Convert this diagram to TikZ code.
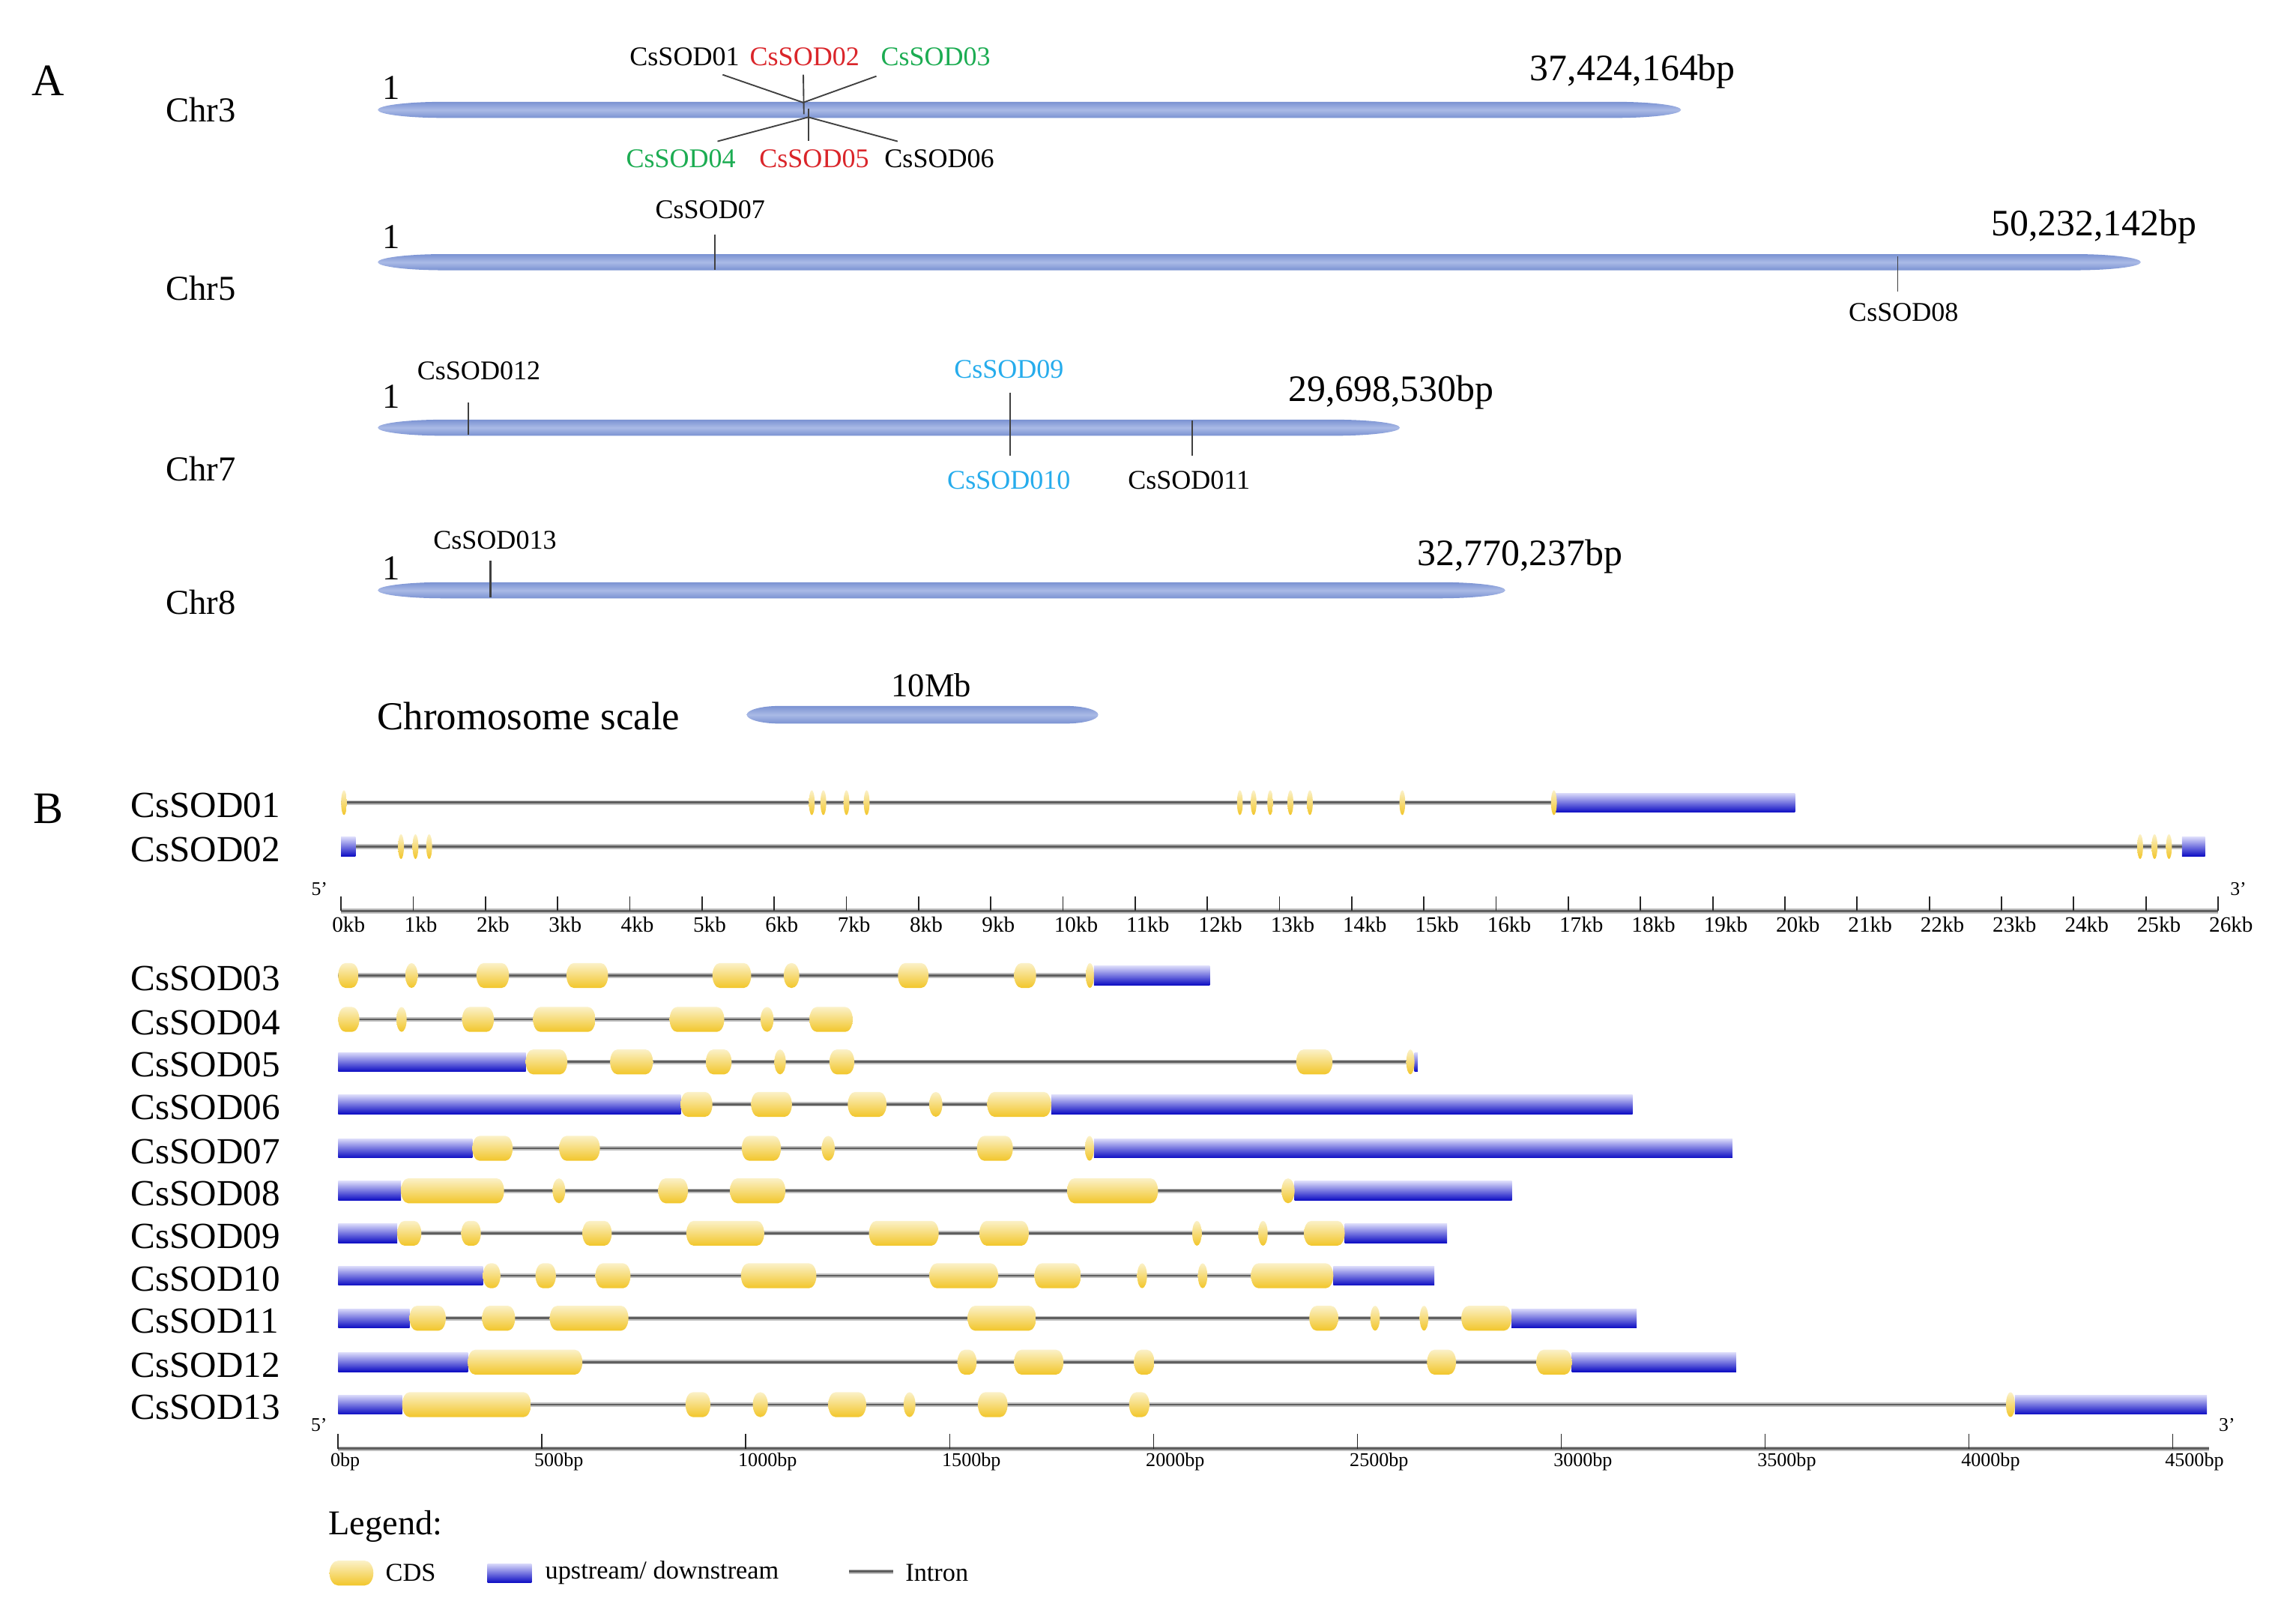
\documentclass[tikz,border=0pt]{standalone}
\usepackage{fontspec}
\setmainfont{Liberation Serif}

\definecolor{sodred}{RGB}{218,37,42}
\definecolor{sodgreen}{RGB}{28,172,82}
\definecolor{sodcyan}{RGB}{38,172,236}
\definecolor{chrmid}{RGB}{170,186,230}
\definecolor{chredge}{RGB}{122,146,210}
\definecolor{cdstop}{RGB}{251,241,200}
\definecolor{cdsbot}{RGB}{242,198,42}
\definecolor{utrtop}{RGB}{218,218,250}
\definecolor{utrbot}{RGB}{14,14,196}
\definecolor{introngray}{RGB}{95,95,95}

\tikzset{
  chrshade/.style={top color=chredge, bottom color=chredge, middle color=chrmid},
  cdsshade/.style={top color=cdstop, bottom color=cdsbot},
  utrshade/.style={top color=utrtop, bottom color=utrbot},
  intron/.style={draw=introngray!40, double=introngray, double distance=0.8pt, line width=0.5pt},
  geneline/.style={draw=black!75, line width=0.55pt},
  axtick/.style={draw=black!85, line width=0.5pt},
  panel/.style={font=\fontsize{17.5}{20}\selectfont},
  chrname/.style={font=\fontsize{13.6}{16}\selectfont},
  genelbl/.style={font=\fontsize{10.5}{12}\selectfont, inner sep=0pt},
  lenlbl/.style={font=\fontsize{14.5}{17}\selectfont, inner sep=0pt},
  rowlbl/.style={font=\fontsize{14.3}{17}\selectfont, inner sep=0pt, anchor=west},
  kblbl/.style={font=\fontsize{8.5}{10}\selectfont, inner sep=0pt, anchor=west},
  bplbl/.style={font=\fontsize{7.6}{9}\selectfont, inner sep=0pt, anchor=west},
  primelbl/.style={font=\fontsize{7.5}{9}\selectfont, inner sep=0pt},
  legendlbl/.style={font=\fontsize{10}{12}\selectfont, inner sep=0pt, anchor=west}
}

% shape with elliptic ends: style, x0, x1, y, half height, end length
\newcommand{\barrel}[6]{%
  \pgfmathsetmacro\bxa{#2}\pgfmathsetmacro\bxb{#3}\pgfmathsetmacro\bd{#6}%
  \pgfmathsetmacro\byt{#4-#5}\pgfmathsetmacro\byb{#4+#5}%
  \pgfmathsetmacro\byu{#4-0.55*#5}\pgfmathsetmacro\byl{#4+0.55*#5}%
  \shade[#1] (\bxa+\bd,\byt) -- (\bxb-\bd,\byt)
    .. controls (\bxb-0.45*\bd,\byt) and (\bxb,\byu) .. (\bxb,#4)
    .. controls (\bxb,\byl) and (\bxb-0.45*\bd,\byb) .. (\bxb-\bd,\byb)
    -- (\bxa+\bd,\byb)
    .. controls (\bxa+0.45*\bd,\byb) and (\bxa,\byl) .. (\bxa,#4)
    .. controls (\bxa,\byu) and (\bxa+0.45*\bd,\byt) .. cycle;}
\newcommand{\cds}[3]{%
  \pgfmathsetmacro\cdsd{min(0.5*((#2)-(#1)),\cdsr)}%
  \barrel{cdsshade}{#1}{#2}{#3}{8.5}{\cdsd}}
\newcommand{\utr}[3]{\shade[utrshade] (#1,#3-6.5) rectangle (#2,#3+6.5);}
\newcommand{\chrom}[3]{\barrel{chrshade}{#1}{#2}{#3}{5.5}{45}}
\def\cdsr{18}

\begin{document}
\begin{tikzpicture}[x=0.02cm, y=-0.02cm]
  \useasboundingbox (0,0) rectangle (1568,1103);

  % ---------- A ----------
  \node[panel] (pa) at (33,55) {A};

  \chrom{258}{1148}{75}
  \chrom{258}{1462}{179}
  \chrom{258}{956}{292}
  \chrom{258}{1028}{403}

  \node[chrname] (chr3) at (137,75) {Chr3};
  \node[chrname] (chr5) at (137,197) {Chr5};
  \node[chrname] (chr7) at (137,320) {Chr7};
  \node[chrname] (chr8) at (137,411) {Chr8};

  \foreach \y [count=\i] in {60,162,271,388}
    \node[chrname] (one\i) at (267,\y) {1};

  \node[lenlbl] (len3) at (1115,49) {37,424,164bp};
  \node[lenlbl] (len5) at (1430,155) {50,232,142bp};
  \node[lenlbl] (len7) at (950,268) {29,698,530bp};
  \node[lenlbl] (len8) at (1038,380) {32,770,237bp};

  % Chr3 cluster
  \node[genelbl] (g01) at (467.5,38.5) {CsSOD01};
  \node[genelbl, text=sodred] (g02) at (549.5,38.5) {CsSOD02};
  \node[genelbl, text=sodgreen] (g03) at (639,38.5) {CsSOD03};
  \node[genelbl, text=sodgreen] (g04) at (465,108.5) {CsSOD04};
  \node[genelbl, text=sodred] (g05) at (556,108.5) {CsSOD05};
  \node[genelbl] (g06) at (641.5,108.5) {CsSOD06};

  \coordinate (hubU) at (548.5,70);
  \coordinate (hubD) at (552,80);
  \coordinate (e01) at (493.5,51);
  \coordinate (e02) at (548.6,51);
  \coordinate (e03) at (598.5,52);
  \coordinate (e04) at (490,96.5);
  \coordinate (e05) at (552,96);
  \coordinate (e06) at (613,96.5);

  \draw[geneline] (e01) -- (hubU) -- (e03);
  \draw[geneline] (e02) -- (549,78);
  \draw[geneline] (e04) -- (hubD) -- (e06);
  \draw[geneline] (552,74) -- (e05);

  % Chr5, Chr7, Chr8
  \node[genelbl] (g07) at (485,143) {CsSOD07};
  \node[genelbl] (g08) at (1300,213) {CsSOD08};
  \node[genelbl] (g12) at (327,253) {CsSOD012};
  \node[genelbl, text=sodcyan] (g09) at (689,252) {CsSOD09};
  \node[genelbl, text=sodcyan] (g10) at (689,328) {CsSOD010};
  \node[genelbl] (g11) at (812,328) {CsSOD011};
  \node[genelbl] (g13) at (338,369) {CsSOD013};

  \draw[geneline] (488,160) -- (488,184);
  \draw[geneline] (1296,175) -- (1296,199);
  \draw[geneline] (320,275) -- (320,297);
  \draw[geneline] (690,268) -- (690,311);
  \draw[geneline] (814,287) -- (814,311);
  \draw[geneline, line width=1pt] (335,383) -- (335,408);

  % scale
  \node[font=\fontsize{15.4}{18}\selectfont] (scl) at (361,489) {Chromosome scale};
  \barrel{chrshade}{510}{750}{488}{6}{22}
  \node[font=\fontsize{13}{15}\selectfont] (mb) at (636,468) {10Mb};

  % ---------- B ----------
  \node[panel] (pb) at (33,552) {B};

  \foreach \g/\y in {01/550,02/580,03/668,04/698,05/727,06/756,07/786,
                     08/815,09/844,10/873,11/902,12/932,13/961}
    \node[rowlbl] (row\g) at (89,\y) {CsSOD\g};

  % kb rows
  \begin{scope}[xshift=4.66cm, x=0.9862cm]
    \draw[intron] (0,548) -- (16.82,548);
    \utr{16.82}{20.14}{548}
    \foreach \m in {0.04,6.52,6.68,7.0,7.28,12.45,12.64,12.87,13.15,13.42,14.70,16.80}
      {\cds{\m-0.04}{\m+0.04}{548}}

    \draw[intron] (0.2,578) -- (25.5,578);
    \utr{0}{0.2}{578}
    \utr{25.5}{25.82}{578}
    \foreach \m in {0.83,1.03,1.22,24.92,25.12,25.32}
      {\cds{\m-0.04}{\m+0.04}{578}}

    \draw[intron] (0,622) -- (26,622);
    \foreach \k in {0,...,26}{
      \draw[axtick] (\k,612) -- (\k,622);
      \node[kblbl] (kb\k) at (\k-0.13,631) {\k kb};
    }
    \node[primelbl] (kb5) at (-0.3,607) {5'};
    \node[primelbl] (kb3) at (26.28,607) {3'};
  \end{scope}

  % bp rows
  \begin{scope}[xshift=4.62cm, x=0.005564cm]
    % CsSOD03
    \draw[intron] (0,666) -- (1854,666);
    \foreach \a/\b in {0/50,165/195,339/419,560/662,918/1013,1093/1131,1373/1448,1658/1712,1834/1854}
      {\cds{\a}{\b}{666}}
    \utr{1854}{2138}{666}
    % CsSOD04
    \draw[intron] (0,696) -- (1262,696);
    \foreach \a/\b in {0/52,143/168,304/382,478/631,813/947,1036/1068,1156/1262}
      {\cds{\a}{\b}{696}}
    % CsSOD05
    \draw[intron] (460,725) -- (2640,725);
    \utr{0}{460}{725}
    \utr{2640}{2648}{725}
    \foreach \a/\b in {460/562,667/772,902/965,1070/1098,1205/1266,2350/2439,2620/2640}
      {\cds{\a}{\b}{725}}
    % CsSOD06
    \draw[intron] (840,754) -- (1749,754);
    \utr{0}{840}{754}
    \utr{1749}{3175}{754}
    \foreach \a/\b in {840/918,1013/1113,1250/1345,1450/1482,1592/1749}
      {\cds{\a}{\b}{754}}
    % CsSOD07
    \draw[intron] (329,784) -- (1854,784);
    \utr{0}{329}{784}
    \utr{1854}{3420}{784}
    \foreach \a/\b in {329/428,542/642,990/1086,1186/1218,1567/1655,1832/1854}
      {\cds{\a}{\b}{784}}
    % CsSOD08
    \draw[intron] (154,813) -- (2346,813);
    \utr{0}{154}{813}
    \utr{2346}{2879}{813}
    \foreach \a/\b in {154/407,526/557,785/858,961/1097,1788/2011,2314/2346}
      {\cds{\a}{\b}{813}}
    % CsSOD09
    \draw[intron] (145,842) -- (2469,842);
    \utr{0}{145}{842}
    \utr{2469}{2720}{842}
    \foreach \a/\b in {145/204,302/350,599/671,854/1045,1302/1473,1573/1694,2095/2118,2257/2280,2369/2469}
      {\cds{\a}{\b}{842}}
    % CsSOD10
    \draw[intron] (355,871) -- (2441,871);
    \utr{0}{355}{871}
    \utr{2441}{2689}{871}
    \foreach \a/\b in {355/398,484/534,631/717,988/1173,1450/1619,1708/1822,1960/1984,2109/2132,2239/2441}
      {\cds{\a}{\b}{871}}
    % CsSOD11
    \draw[intron] (175,900) -- (2878,900);
    \utr{0}{175}{900}
    \utr{2878}{3185}{900}
    \foreach \a/\b in {175/264,353/434,519/712,1544/1712,2382/2453,2532/2555,2653/2674,2755/2878}
      {\cds{\a}{\b}{900}}
    % CsSOD12
    \draw[intron] (318,930) -- (3026,930);
    \utr{0}{318}{930}
    \utr{3026}{3429}{930}
    \foreach \a/\b in {318/599,1519/1566,1658/1779,1952/2002,2671/2742,2939/3026}
      {\cds{\a}{\b}{930}}
    % CsSOD13
    \draw[intron] (157,959) -- (4113,959);
    \utr{0}{157}{959}
    \utr{4113}{4584}{959}
    \foreach \a/\b in {157/473,852/913,1017/1054,1202/1295,1387/1416,1569/1642,1940/1990,4091/4113}
      {\cds{\a}{\b}{959}}

    \draw[intron] (0,989) -- (4590,989);
    \foreach \k in {0,500,...,4500}{
      \draw[axtick] (\k,979) -- (\k,989);
      \node[bplbl] (bp\k) at (\k-20,998) {\k bp};
    }
    \node[primelbl] (bp5) at (-47,973) {5'};
    \node[primelbl] (bp3) at (4633,973) {3'};
  \end{scope}

  % legend
  \node[font=\fontsize{13.5}{16}\selectfont, anchor=west, inner sep=0pt] (leg) at (224,1042) {Legend:};
  \def\cdsr{6}
  \cds{225}{255}{1074}
  \node[legendlbl] (legcds) at (263,1074) {CDS};
  \utr{333}{363}{1074}
  \node[legendlbl] (legutr) at (372,1074) {upstream/ downstream};
  \draw[intron] (580,1073) -- (610,1073);
  \node[legendlbl] (legint) at (618,1074) {Intron};
\end{tikzpicture}
\end{document}
